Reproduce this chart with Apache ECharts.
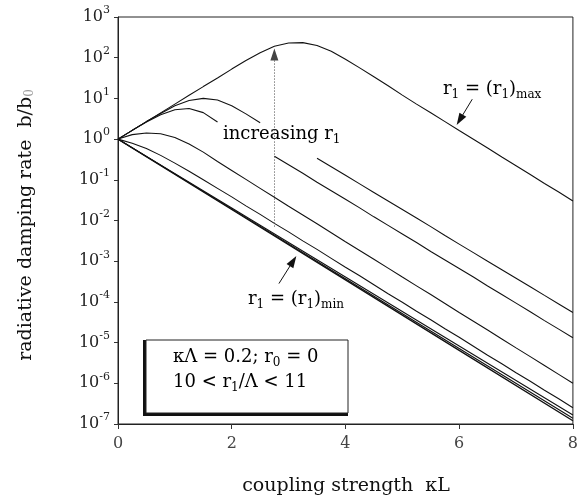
<!DOCTYPE html>
<html>
<head>
<meta charset="utf-8">
<script src="https://cdn.jsdelivr.net/npm/echarts@6/dist/echarts.min.js"></script>
<style>html,body{margin:0;padding:0;background:#fff}#c{width:581px;height:497px}</style>
</head>
<body>
<div id="c"></div>
<script>
// shared kL grid for curved series
const xs = [0,0.25,0.5,0.75,1,1.25,1.5,1.75,2,2.25,2.5,2.75,3,3.25,3.5,3.75,4,4.25,4.5,4.75,5,5.25,5.5,5.75,6,6.25,6.5,6.75,7,7.25,7.5,7.75,8];
// r1 = (r1)max
const curveMax = [1,1.641,2.692,4.416,7.244,11.89,19.50,31.62,52.48,85.11,131.8,190.5,229.1,234.4,199.5,144.5,91.2,56.23,33.88,20.42,12.02,7.24,4.42,2.69,1.622,0.989,0.6026,0.3631,0.2213,0.1349,0.08128,0.05012,0.0302];
const curve2 = [1,1.641,2.692,4.266,6.607,8.913,10.0,9.12,6.607,4.169,2.512,null,null,null,0.3388,0.2089,0.1288,0.07943,0.04898,0.0302,0.01862,0.01148,0.007079,0.004266,0.00263,0.001622,0.001,0.0006166,0.0003802,0.0002344,0.0001445,0.0000891,0.00005495];
const curve3 = [1,1.641,2.63,3.981,5.248,5.623,4.467,2.63,null,null,null,0.3802,0.2344,0.1445,0.0871,0.0537,0.03311,0.02042,0.0123,0.007586,0.004677,0.002884,0.001738,0.001072,0.000661,0.0004074,0.0002455,0.0001514,0.0000933,0.0000575,0.0000347,0.0000214,0.0000132];
const curve4 = [1,1.288,1.413,1.349,1.096,0.7586,0.4786,0.2818,0.1698,0.1023,0.06166,0.03715,0.02239,0.01365,0.008318,0.005012,0.00302,0.001841,0.001122,0.000676,0.000407,0.000248,0.0001514,0.0000912,0.000055,0.0000335,0.0000204,0.0000123,0.00000741,0.00000452,0.00000275,0.00000166,0.000001];
const curve5 = [1,0.7943,0.5888,0.3981,0.257,0.1622,0.1,0.06166,0.038,0.02291,0.01413,0.008511,0.005248,0.003162,0.00195,0.001175,0.000708,0.000437,0.000263,0.000158,0.0000977,0.0000589,0.0000363,0.0000219,0.0000135,0.00000813,0.0000049,0.00000302,0.00000182,0.00000112,0.000000676,0.000000417,0.000000251];
// nearly straight bundle near r1 = (r1)min
const bundleX = [0,2,4,6,8];
const bundleA = [1,0.02018,0.000407,0.00000822,0.000000166];
const bundleB = [1,0.01928,0.0003715,0.00000716,0.000000138];
const bundleMin = [1,0.01862,0.0003467,0.00000646,0.00000012];
// annotation arrows (data coordinates)
const arrowUp = [[2.75,0.0071],[2.75,120]];
const arrowMax = [[6.23,9.55],[6.01,2.97]];
const arrowMin = [[2.83,0.000282],[3.08,0.00101]];
const xTicks = [0,2,4,6,8];

const FONT = 'DejaVu Serif';
const pair = (x, y) => x.map((v, i) => [v, y[i] == null ? '-' : y[i]]);
const lineSeries = (x, y, extra) => Object.assign({
  type: 'line', data: pair(x, y), showSymbol: false, symbol: 'none',
  lineStyle: {color: '#111', width: 1.1}, animation: false, silent: true, z: 3
}, extra || {});

const chart = echarts.init(document.getElementById('c'), null, {renderer: 'canvas'});
const subRich = {
  m: {fontFamily: FONT, fontSize: 18, lineHeight: 24, color: '#111'},
  s: {fontFamily: FONT, fontSize: 12, lineHeight: 12, verticalAlign: 'bottom', color: '#111'}
};
chart.setOption({
  animation: false,
  backgroundColor: '#fff',
  grid: {left: 118, right: 6, top: 17, bottom: 73, show: true, borderColor: '#222', borderWidth: 1, backgroundColor: 'transparent'},
  xAxis: {
    type: 'value', min: 0, max: 8, interval: 2,
    axisLine: {show: true, onZero: false, lineStyle: {color: '#222', width: 1}},
    axisTick: {show: true, inside: false, length: 5, lineStyle: {color: '#333'}},
    axisLabel: {margin: 12, fontFamily: FONT, fontSize: 16, color: '#444',
      formatter: v => xTicks.indexOf(v) >= 0 ? String(v) : ''},
    splitLine: {show: false}
  },
  yAxis: {
    type: 'log', logBase: 10, min: 1e-7, max: 1e3, interval: 1,
    axisLine: {show: true, onZero: false, lineStyle: {color: '#222', width: 1}},
    axisTick: {show: true, inside: false, length: 4, lineStyle: {color: '#333'}},
    minorTick: {show: false},
    axisLabel: {
      margin: 8,
      formatter: v => '{b|10}{e|' + Math.round(Math.log10(v)) + '}',
      rich: {
        b: {fontFamily: FONT, fontSize: 16, lineHeight: 24, color: '#222'},
        e: {fontFamily: FONT, fontSize: 11, lineHeight: 11, verticalAlign: 'top', color: '#222'}
      }
    },
    splitLine: {show: false}
  },
  series: [
    lineSeries(xs, curveMax, {
      markLine: {
        silent: true, animation: false, symbol: ['none', 'triangle'], symbolSize: [8, 12],
        label: {show: false},
        data: [
          [{coord: arrowUp[0], lineStyle: {color: '#444', type: [1, 2], width: 1}}, {coord: arrowUp[1]}],
          [{coord: arrowMax[0], lineStyle: {color: '#111', type: 'solid', width: 1}}, {coord: arrowMax[1]}],
          [{coord: arrowMin[0], lineStyle: {color: '#111', type: 'solid', width: 1}}, {coord: arrowMin[1]}]
        ]
      }
    }),
    lineSeries(xs, curve2),
    lineSeries(xs, curve3),
    lineSeries(xs, curve4),
    lineSeries(xs, curve5),
    lineSeries(bundleX, bundleA),
    lineSeries(bundleX, bundleB),
    lineSeries(bundleX, bundleMin, {lineStyle: {color: '#111', width: 1.4}})
  ],
  graphic: [
    {type: 'text', x: 346, y: 486, style: {text: 'coupling strength  κL', fontFamily: FONT, fontSize: 19, fill: '#111', align: 'center', verticalAlign: 'middle'}},
    {type: 'text', x: 26, y: 225, rotation: Math.PI / 2, style: {
      text: 'radiative damping rate  b/b{s|0}', align: 'center', verticalAlign: 'middle',
      fontFamily: FONT, fontSize: 19, fill: '#111',
      rich: {s: {fontFamily: FONT, fontSize: 12, lineHeight: 12, verticalAlign: 'bottom', fill: '#999'}}
    }},
    {type: 'text', x: 223, y: 134, style: {text: '{m|increasing r}{s|1}', rich: subRich, align: 'left', verticalAlign: 'middle'}},
    {type: 'text', x: 443, y: 89, style: {text: '{m|r}{s|1}{m| = (r}{s|1}{m|)}{s|max}', rich: subRich, align: 'left', verticalAlign: 'middle'}},
    {type: 'text', x: 248, y: 299, style: {text: '{m|r}{s|1}{m| = (r}{s|1}{m|)}{s|min}', rich: subRich, align: 'left', verticalAlign: 'middle'}},
    {type: 'rect', shape: {x: 143, y: 340, width: 205, height: 76}, style: {fill: '#111'}, z: 10},
    {type: 'rect', shape: {x: 146, y: 340, width: 202, height: 73}, style: {fill: '#fff', stroke: '#222', lineWidth: 1}, z: 11},
    {type: 'text', x: 173, y: 357, z: 12, style: {text: '{m|κΛ = 0.2; r}{s|0}{m| = 0}', rich: subRich, align: 'left', verticalAlign: 'middle'}},
    {type: 'text', x: 173, y: 382, z: 12, style: {text: '{m|10 < r}{s|1}{m|/Λ < 11}', rich: subRich, align: 'left', verticalAlign: 'middle'}}
  ]
});
</script>
</body>
</html>
